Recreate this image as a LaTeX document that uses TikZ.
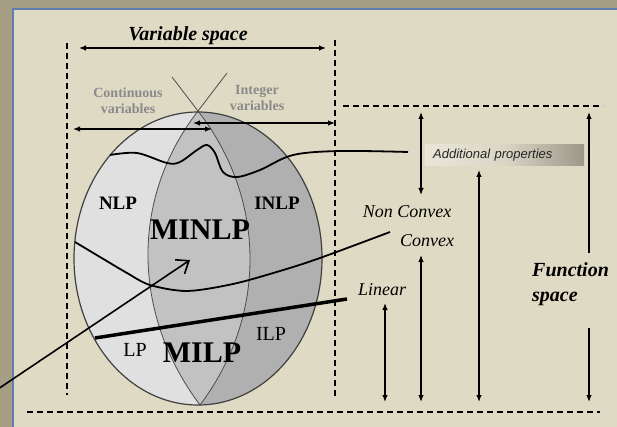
\documentclass[tikz,border=0pt]{standalone}
\usepackage{fontspec}
\setmainfont{Liberation Serif}
\newfontfamily\propfont{Liberation Sans}
\usetikzlibrary{arrows.meta,calc}
\definecolor{frameColor}{HTML}{A69D85}
\definecolor{panelColor}{HTML}{DEDAC4}
\definecolor{borderColor}{HTML}{5F7EAD}
\definecolor{contColor}{HTML}{E0E0E0}
\definecolor{mixColor}{HTML}{C2C2C2}
\definecolor{intColor}{HTML}{B0B0B0}
\definecolor{varColor}{HTML}{8A8A8A}
\definecolor{propLight}{HTML}{E9E6D7}
\definecolor{propMid}{HTML}{D9D6C6}
\definecolor{propDark}{HTML}{9C9788}
\newcommand{\sz}[1]{\fontsize{#1}{#1}\selectfont}
\tikzset{
	spanarrow/.style={<->, line width=1.2pt},
	uparrow/.style={->, line width=1.2pt},
	pointer/.style={-{Straight Barb[length=11pt,width=17pt]}, line width=1.6pt},
	bound/.style={dash pattern=on 6pt off 4pt, line width=1.1pt},
	seam/.style={draw=black!70, line width=0.8pt},
	level/.style={line width=1.8pt},
	cls/.style={font=\sz{19}\bfseries, inner sep=0},
	bigcls/.style={font=\sz{30}\bfseries, inner sep=0},
	smallcls/.style={font=\sz{20}, inner sep=0},
	kind/.style={font=\fontsize{14}{16.5}\selectfont\bfseries, text=varColor, align=center, inner sep=0},
	curvelbl/.style={font=\sz{18}\itshape, inner sep=0, anchor=base},
	spacelbl/.style={font=\fontsize{20}{25}\selectfont\bfseries\itshape, inner sep=0},
	propbox/.style={anchor=west, minimum height=21pt, text width=143pt, inner xsep=8pt, inner ysep=0,
		left color=propLight, right color=propDark, middle color=propMid,
		font=\sz{13}\propfont\itshape, text=black!85}
}
\begin{document}
\begin{tikzpicture}[x=1pt, y=-1pt, >={Latex[length=7pt,width=5.5pt]}]
	\useasboundingbox (0,0) rectangle (617,427);
	% slide background
	\fill[frameColor] (0,0) rectangle (617,427);
	\fill[panelColor] (12,8) rectangle (617,427);
	\draw[borderColor, line width=2.5pt] (13,427) -- (13,9) -- (617,9);
	% the ball: continuous / mixed / integer parts
	\begin{scope}
		\clip (198,258.5) ellipse [x radius=124, y radius=146.5];
		\fill[intColor] (60,100) rectangle (340,420);
		\fill[mixColor] (198,111) .. controls (267,200) and (267,316) .. (200,405) -- (60,420) -- (60,100) -- cycle;
		\fill[contColor] (198,111) .. controls (129,200) and (133,316) .. (200,405) -- (60,420) -- (60,100) -- cycle;
	\end{scope}
	\draw[seam] (227,73) -- (198,111) .. controls (129,200) and (133,316) .. (200,405);
	\draw[seam] (172,77) -- (198,111) .. controls (267,200) and (267,316) .. (200,405);
	\draw[draw=black!75, line width=1.2pt] (198,258.5) ellipse [x radius=124, y radius=146.5];
	% function levels
	\draw[level] plot[smooth, tension=0.55] coordinates {(110,155) (137,153) (167,163) (180,162) (197,150) (207,145) (215,153) (223,172) (237,177) (260,170) (293,155) (340,151) (408,152)};
	\draw[level] plot[smooth] coordinates {(75,242) (100,257) (127,273) (150,285) (187,291) (233,284) (280,271) (320,258) (390,232)};
	\draw[line width=3.5pt] (95,338) -- (347,299);
	% dashed bounds
	\draw[bound] (67,43) -- (67,395);
	\draw[bound] (335,40) -- (335,399);
	\draw[bound] (343,106) -- (603,106);
	\draw[bound] (27,412) -- (600,412);
	% problem classes
	\node[cls] (nlp) at (118,203.5) {NLP};
	\node[cls] (inlp) at (277,203.5) {INLP};
	\node[bigcls] (minlp) at (200,230) {MINLP};
	\node[bigcls] (milp) at (202,353) {MILP};
	\node[smallcls] (lp) at (135,350) {LP};
	\node[smallcls] (ilp) at (271,334) {ILP};
	% texts
	\node[spacelbl, anchor=base] (varsp) at (188,41) {Variable space};
	\node[kind] (contv) at (128,100.5) {Continuous\\variables};
	\node[kind] (intv) at (257,98) {Integer\\variables};
	\node[curvelbl] (ncvx) at (407,218) {Non Convex};
	\node[curvelbl] (cvx) at (427,247) {Convex};
	\node[curvelbl] (lin) at (382,295) {Linear};
	\node[propbox] (addprop) at (425,155.5) {Additional properties};
	\node[spacelbl, align=left, anchor=north west] (funsp) at (532,262) {Function\\space};
	% arrows
	\coordinate (vs_l) at (79,48);   \coordinate (vs_r) at (326,48);
	\coordinate (cv_l) at (73,129);  \coordinate (cv_r) at (212,129);
	\coordinate (iv_l) at (193,123); \coordinate (iv_r) at (335,123);
	\coordinate (ap_t) at (421,112); \coordinate (ap_b) at (421,195);
	\coordinate (cx_t) at (421,255); \coordinate (cx_b) at (421,402);
	\coordinate (nc_t) at (479,170); \coordinate (nc_b) at (479,402);
	\coordinate (ln_t) at (385,303); \coordinate (ln_b) at (385,402);
	\coordinate (fs_t) at (589,112); \coordinate (fs_a) at (589,253);
	\coordinate (fs_c) at (589,328); \coordinate (fs_b) at (589,402);
	\coordinate (ptr_s) at (-2,389); \coordinate (ptr_e) at (190,260);
	\path (vs_l) edge[spanarrow] (vs_r);
	\path (cv_l) edge[spanarrow] (cv_r);
	\path (iv_l) edge[spanarrow] (iv_r);
	\path (ap_t) edge[spanarrow] (ap_b);
	\path (cx_t) edge[spanarrow] (cx_b);
	\path (nc_t) edge[spanarrow] (nc_b);
	\path (ln_t) edge[spanarrow] (ln_b);
	\path (fs_a) edge[uparrow] (fs_t);
	\path (fs_c) edge[uparrow] (fs_b);
	\path (ptr_s) edge[pointer] (ptr_e);
\end{tikzpicture}
\end{document}
